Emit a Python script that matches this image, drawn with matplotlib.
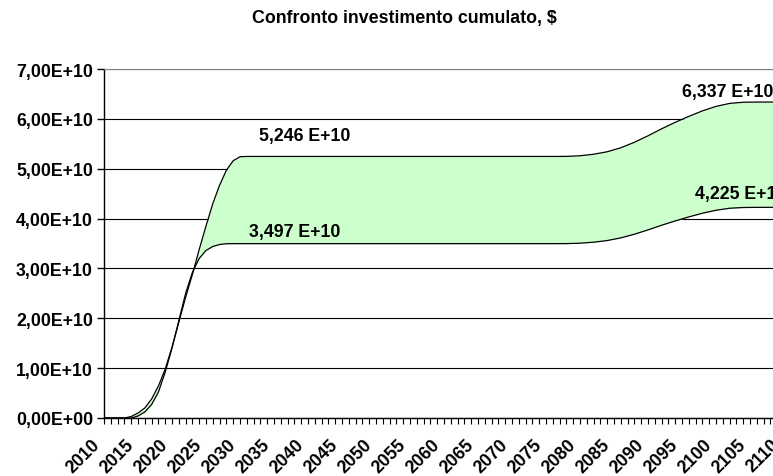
import matplotlib
matplotlib.use("Agg")
import matplotlib.pyplot as plt
from matplotlib.ticker import MultipleLocator, FuncFormatter
from matplotlib.transforms import ScaledTranslation

years = [2010, 2013, 2014, 2015, 2016, 2017, 2018, 2019, 2020, 2021, 2022, 2023,
         2024, 2025, 2026, 2027, 2028, 2029, 2030, 2031, 2032, 2040, 2050, 2060,
         2070, 2076, 2078, 2080, 2082, 2084, 2086, 2088, 2090, 2092, 2094, 2096,
         2098, 2100, 2102, 2104, 2106, 2108, 2110]

# values in units of 1E+10 $
high = [0, 0, 0.03, 0.10, 0.20, 0.38, 0.64, 0.98, 1.42, 1.92, 2.42, 2.88,
        3.38, 3.85, 4.30, 4.67, 4.97, 5.16, 5.24, 5.246, 5.246, 5.246, 5.246, 5.246,
        5.246, 5.246, 5.247, 5.26, 5.29, 5.34, 5.42, 5.53, 5.66, 5.80, 5.93, 6.05,
        6.16, 6.25, 6.31, 6.333, 6.337, 6.337, 6.337]

low = [0, 0, 0, 0.04, 0.12, 0.27, 0.52, 0.92, 1.40, 1.95, 2.50, 2.92,
       3.20, 3.36, 3.44, 3.48, 3.495, 3.497, 3.497, 3.497, 3.497, 3.497, 3.497, 3.497,
       3.497, 3.497, 3.498, 3.506, 3.526, 3.559, 3.613, 3.686, 3.773, 3.866, 3.953, 4.033,
       4.107, 4.167, 4.207, 4.222, 4.225, 4.225, 4.225]

labels = ["5,246 E+10", "3,497 E+10", "6,337 E+10", "4,225 E+10"]

title = "Confronto investimento cumulato, $"

plt.rcParams['font.family'] = ['Liberation Sans', 'DejaVu Sans']

W, H = 773, 477
FS = 12.8
fig = plt.figure(figsize=(W / 100, H / 100), dpi=100)
x0, x1 = 104, 784
y0, y1 = 419, 70
ax = fig.add_axes([x0 / W, (H - y0) / H, (x1 - x0) / W, (y0 - y1) / H])

ax.fill_between(years, low, high, color="#CCFFCC", lw=0)
ax.plot(years, high, color="black", lw=0.9)
ax.plot(years, low, color="black", lw=0.9)

ax.set_xlim(2010, 2110)
ax.set_ylim(0, 7)

ax.yaxis.set_major_locator(MultipleLocator(1))
ax.yaxis.set_major_formatter(FuncFormatter(lambda v, p: f"{v:.2f}".replace(".", ",") + ("E+10" if v > 0 else "E+00")))
ax.xaxis.set_major_locator(MultipleLocator(5))
ax.xaxis.set_minor_locator(MultipleLocator(1))
ax.xaxis.set_major_formatter(FuncFormatter(lambda v, p: f"{int(round(v))}"))

ax.grid(axis="y", color="black", lw=0.8)
ax.set_axisbelow(True)

for s in ["left", "bottom"]:
    ax.spines[s].set_color("black")
    ax.spines[s].set_linewidth(1.0)
ax.spines["top"].set_color("#808080")
ax.spines["right"].set_visible(False)

ax.tick_params(axis="y", direction="out", length=5, width=1, labelsize=FS, pad=3)
ax.tick_params(axis="x", which="both", direction="out", length=4, width=0.8, labelsize=FS, pad=8)
shift = ScaledTranslation(-7 / 100, -7 / 100, fig.dpi_scale_trans)
for t in ax.get_yticklabels():
    t.set_fontweight("bold")
for t in ax.get_xticklabels():
    t.set_fontweight("bold")
    t.set_rotation(45)
    t.set_ha("right")
    t.set_va("center")
    t.set_rotation_mode("anchor")
    t.set_transform(t.get_transform() + shift)

# label anchor positions in pixel coords of the reference
label_pos = [(305, 137, "center"), (295, 233, "center"), (682, 93, "left"), (695, 195, "left")]
for txt, (px, py, ha) in zip(labels, label_pos):
    fig.text(px / W, 1 - py / H, txt, ha=ha, va="center", fontsize=FS, fontweight="bold")

fig.text(404 / W, 1 - 19 / H, title, ha="center", va="center", fontsize=FS, fontweight="bold")

fig.savefig("out.png", dpi=100)
